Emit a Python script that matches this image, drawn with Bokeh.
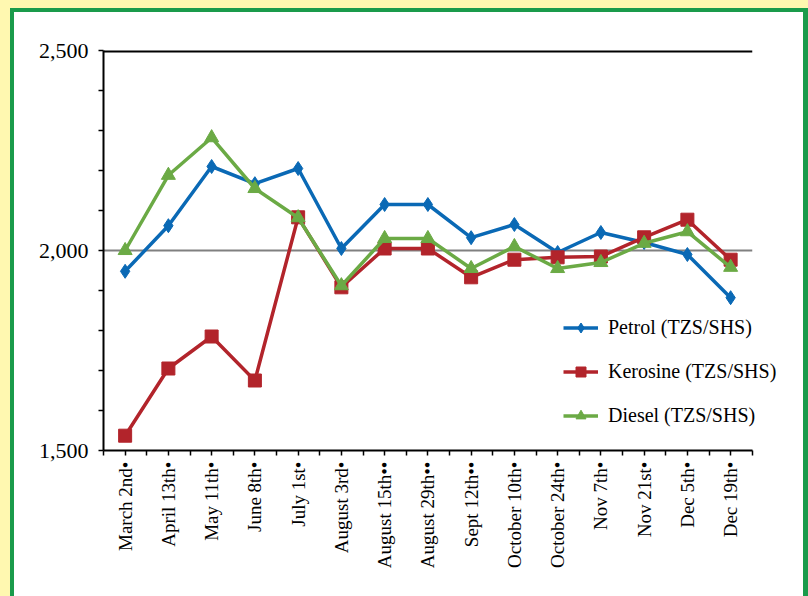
import numpy as np
from bokeh.plotting import figure
from bokeh.layouts import row, column
from bokeh.models import (FixedTicker, NumeralTickFormatter, Legend, Spacer)
from bokeh.embed import file_html
from bokeh.resources import INLINE

dates = ["March 2nd\u2022", "April 13th\u2022", "May 11th\u2022", "June 8th\u2022", "July 1st\u2022",
         "August 3rd\u2022", "August 15th\u2022\u2022", "August 29th\u2022\u2022", "Sept 12th\u2022\u2022",
         "October 10th\u2022", "October 24th\u2022", "Nov 7th\u2022", "Nov 21st\u2022", "Dec 5th\u2022",
         "Dec 19th\u2022"]
petrol = [1948, 2062, 2210, 2167, 2205, 2005, 2115, 2115, 2032, 2065, 1995, 2045, 2020, 1990, 1882]
kerosine = [1537, 1705, 1785, 1675, 2083, 1908, 2005, 2005, 1933, 1977, 1983, 1985, 2033, 2077, 1977]
diesel = [2000, 2188, 2282, 2155, 2082, 1912, 2030, 2030, 1955, 2010, 1955, 1970, 2018, 2047, 1958]
y_ticks = [1500, 2000, 2500]
y_minor = [1600, 1700, 1800, 1900, 2100, 2200, 2300, 2400]
ref_level = 2000

n = len(dates)
x = [i + 0.5 for i in range(n)]

YELLOW = "#FFF8B0"
BORDER_GREEN = "#1A9B4B"
BLUE = "#0A69B5"
RED = "#B2242B"
GREEN = "#6BAA45"
FONT = "Liberation Serif"

p = figure(width=789, height=584, frame_width=692, frame_height=400,
           output_backend="svg", toolbar_location=None,
           x_range=(0, n + 1), y_range=(y_ticks[0], y_ticks[-1]),
           min_border_left=89, min_border_right=8, min_border_top=38, min_border_bottom=146)
p.border_fill_color = "white"
p.background_fill_color = "white"
p.outline_line_color = None
p.xgrid.visible = False
p.ygrid.visible = False

# gray reference line at 2,000 and black top line at 2,500, over the category span only
p.segment(x0=[0], x1=[n], y0=[ref_level], y1=[ref_level], line_color="#808080", line_width=2)
p.segment(x0=[0], x1=[n], y0=[y_ticks[-1]], y1=[y_ticks[-1]], line_color="black", line_width=4)

# x axis
p.xaxis.ticker = FixedTicker(ticks=x, minor_ticks=list(range(n + 1)))
p.xaxis.bounds = (0, n)
p.xaxis.major_label_overrides = {xi: d for xi, d in zip(x, dates)}
p.xaxis.major_label_orientation = np.pi / 2
p.xaxis.major_label_text_font = FONT
p.xaxis.major_label_text_font_size = "19px"
p.xaxis.major_label_text_color = "black"
p.xaxis.axis_line_color = "black"
p.xaxis.axis_line_width = 2
p.xaxis.major_tick_in = 0
p.xaxis.major_tick_out = 5
p.xaxis.minor_tick_in = 0
p.xaxis.minor_tick_out = 5
p.xaxis.major_tick_line_color = "black"
p.xaxis.minor_tick_line_color = "black"
p.xaxis.major_tick_line_width = 1.5
p.xaxis.minor_tick_line_width = 1.5
p.xaxis.major_label_standoff = 6

# y axis
p.yaxis.ticker = FixedTicker(ticks=y_ticks, minor_ticks=y_minor)
p.yaxis.formatter = NumeralTickFormatter(format="0,0")
p.yaxis.major_label_text_font = FONT
p.yaxis.major_label_text_font_size = "22px"
p.yaxis.major_label_text_color = "black"
p.yaxis.axis_line_color = "black"
p.yaxis.axis_line_width = 2
p.yaxis.major_tick_in = 0
p.yaxis.major_tick_out = 5
p.yaxis.minor_tick_in = 0
p.yaxis.minor_tick_out = 5
p.yaxis.major_tick_line_color = "black"
p.yaxis.minor_tick_line_color = "black"
p.yaxis.major_tick_line_width = 1.5
p.yaxis.minor_tick_line_width = 1.5
p.yaxis.major_label_standoff = 10

series = [
    ("Petrol (TZS/SHS)", petrol, BLUE, "diamond", 14),
    ("Kerosine (TZS/SHS)", kerosine, RED, "square", 13),
    ("Diesel (TZS/SHS)", diesel, GREEN, "triangle", 14),
]
items = []
for label, vals, color, marker, size in series:
    r1 = p.line(x, vals, line_color=color, line_width=3.5)
    r2 = p.scatter(x, vals, marker=marker, size=size, fill_color=color, line_color=color)
    items.append((label, [r1, r2]))

legend = Legend(items=items, location=(460, 22), orientation="vertical",
                label_text_font=FONT, label_text_font_size="20px", label_text_color="black",
                glyph_width=35, glyph_height=25, label_height=25, label_standoff=10, spacing=19,
                padding=0, margin=0, border_line_color=None, background_fill_alpha=0)
p.add_layout(legend, "center")

def band(w, h, color):
    return Spacer(width=w, height=h, styles={"background-color": color})

layout = column(
    band(808, 8, YELLOW),
    row(
        band(10, 588, YELLOW),
        band(4, 588, BORDER_GREEN),
        column(band(789, 4, BORDER_GREEN), p, spacing=0),
        band(5, 588, BORDER_GREEN),
        spacing=0,
    ),
    spacing=0,
)

open("out.html", "w").write(file_html(layout, INLINE))
